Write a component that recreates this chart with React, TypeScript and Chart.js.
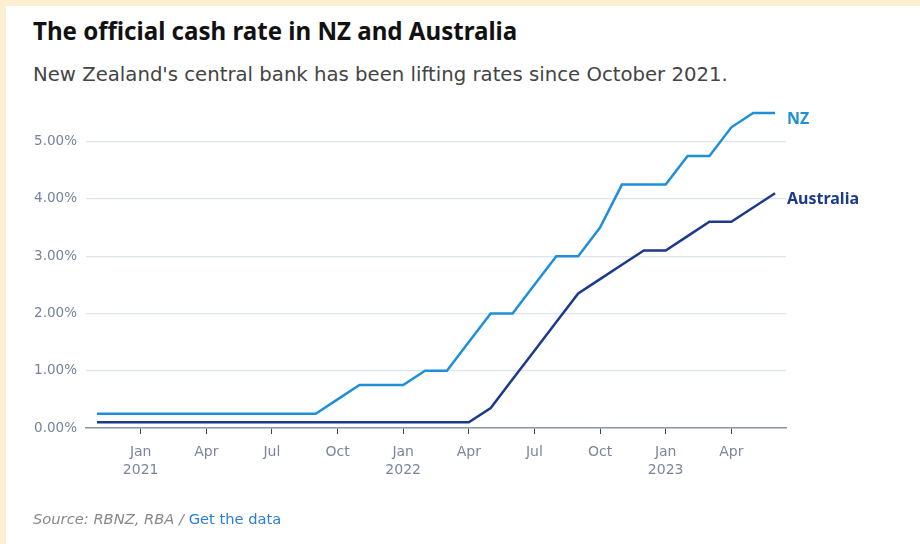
import React, { useEffect, useRef } from "react";
import { Chart, registerables } from "chart.js";

Chart.register(...registerables);

const months = [
  "2020-11", "2020-12",
  "2021-01", "2021-02", "2021-03", "2021-04", "2021-05", "2021-06",
  "2021-07", "2021-08", "2021-09", "2021-10", "2021-11", "2021-12",
  "2022-01", "2022-02", "2022-03", "2022-04", "2022-05", "2022-06",
  "2022-07", "2022-08", "2022-09", "2022-10", "2022-11", "2022-12",
  "2023-01", "2023-02", "2023-03", "2023-04", "2023-05", "2023-06",
];

const nzRates = [
  0.25, 0.25,
  0.25, 0.25, 0.25, 0.25, 0.25, 0.25,
  0.25, 0.25, 0.25, 0.5, 0.75, 0.75,
  0.75, 1.0, 1.0, 1.5, 2.0, 2.0,
  2.5, 3.0, 3.0, 3.5, 4.25, 4.25,
  4.25, 4.75, 4.75, 5.25, 5.5, 5.5,
];

const auRates = [
  0.1, 0.1,
  0.1, 0.1, 0.1, 0.1, 0.1, 0.1,
  0.1, 0.1, 0.1, 0.1, 0.1, 0.1,
  0.1, 0.1, 0.1, 0.1, 0.35, 0.85,
  1.35, 1.85, 2.35, 2.6, 2.85, 3.1,
  3.1, 3.35, 3.6, 3.6, 3.85, 4.1,
];

const seriesNames = ["NZ", "Australia"];
const seriesColors = ["#1f8fd8", "#1c3a8c"];
const yTicks = [0, 1, 2, 3, 4, 5];
const monthNames = ["Jan", "Feb", "Mar", "Apr", "May", "Jun", "Jul", "Aug", "Sep", "Oct", "Nov", "Dec"];

const FONT = "'Noto Sans', 'Open Sans', sans-serif";
const WIDE = "'DejaVu Sans', 'Noto Sans', sans-serif";

const endLabels = {
  id: "endLabels",
  afterDatasetsDraw(chart: any) {
    const { ctx, chartArea } = chart;
    ctx.save();
    ctx.font = `bold 16px ${FONT}`;
    ctx.textBaseline = "middle";
    ctx.textAlign = "left";
    chart.data.datasets.forEach((ds: any, i: number) => {
      const meta = chart.getDatasetMeta(i);
      const last = meta.data[meta.data.length - 1];
      ctx.fillStyle = ds.borderColor;
      ctx.fillText(ds.label, chartArea.right + 1, last.y + 6);
    });
    ctx.restore();
  },
};

export default function App() {
  const ref = useRef<HTMLCanvasElement | null>(null);

  useEffect(() => {
    document.body.style.margin = "0";
    const chart = new Chart(ref.current as HTMLCanvasElement, {
      type: "line",
      data: {
        labels: months,
        datasets: [
          {
            label: seriesNames[0],
            data: nzRates,
            borderColor: seriesColors[0],
            borderWidth: 2.5,
            pointRadius: 0,
            tension: 0,
            clip: false,
          },
          {
            label: seriesNames[1],
            data: auRates,
            borderColor: seriesColors[1],
            borderWidth: 2.5,
            pointRadius: 0,
            tension: 0,
            clip: false,
          },
        ],
      },
      options: {
        animation: false,
        responsive: false,
        maintainAspectRatio: false,
        layout: { padding: { left: 20, right: 134, top: 113, bottom: 64 } },
        plugins: {
          legend: { display: false },
          tooltip: { enabled: false },
        },
        scales: {
          x: {
            type: "category",
            offset: true,
            afterFit(scale: any) {
              scale.height = 52;
            },
            grid: {
              drawOnChartArea: false,
              drawTicks: true,
              tickLength: 6,
              offset: false,
              tickColor: (c: any) => {
                const idx = c.index;
                const m = parseInt(months[idx]?.slice(5) ?? "0", 10);
                return (m - 1) % 3 === 0 ? "#444" : "rgba(0,0,0,0)";
              },
            },
            border: { display: true, color: "#8b95a5", width: 1.5 },
            ticks: {
              autoSkip: false,
              maxRotation: 0,
              padding: 9,
              color: "#7b8699",
              font: { family: WIDE, size: 14, lineHeight: 1.3 },
              callback: (_v: any, idx: number) => {
                const [y, mm] = months[idx].split("-");
                const m = parseInt(mm, 10);
                if ((m - 1) % 3 !== 0) return "";
                if (m === 1) return [monthNames[0], y];
                return monthNames[m - 1];
              },
            },
          },
          y: {
            min: 0,
            max: 5.5,
            afterFit(scale: any) {
              scale.width = 66;
            },
            afterBuildTicks(scale: any) {
              scale.ticks = yTicks.map((v) => ({ value: v }));
            },
            grid: {
              drawTicks: false,
              color: "#dfe4ec",
              lineWidth: 1.2,
            },
            border: { display: false },
            ticks: {
              padding: 9,
              color: "#76839a",
              font: { family: WIDE, size: 13.5 },
              callback: (v: any) => `${Number(v).toFixed(2)}%`,
            },
          },
        },
      },
      plugins: [endLabels],
    });
    return () => chart.destroy();
  }, []);

  return (
    <div
      style={{
        position: "absolute",
        left: 0,
        top: 0,
        width: 920,
        height: 544,
        background: "#fdf0d2",
        overflow: "hidden",
      }}
    >
      <div
        style={{
          position: "absolute",
          left: 6,
          top: 6,
          width: 914,
          height: 538,
          background: "#ffffff",
        }}
      />
      <div
        style={{
          position: "absolute",
          left: 33,
          top: 14,
          fontFamily: FONT,
          fontWeight: 700,
          fontSize: 24.1,
          lineHeight: "34px",
          color: "#111",
          whiteSpace: "nowrap",
        }}
      >
        The official cash rate in NZ and Australia
      </div>
      <div
        style={{
          position: "absolute",
          left: 33,
          top: 61,
          fontFamily: WIDE,
          fontSize: 19.7,
          lineHeight: "28px",
          color: "#444",
          whiteSpace: "nowrap",
        }}
      >
        New Zealand's central bank has been lifting rates since October 2021.
      </div>
      <canvas
        ref={ref}
        width={920}
        height={544}
        style={{ position: "absolute", left: 0, top: 0, width: 920, height: 544 }}
      />
      <div
        style={{
          position: "absolute",
          left: 33,
          top: 509,
          fontFamily: WIDE,
          fontSize: 14.7,
          lineHeight: "20px",
          color: "#888",
          whiteSpace: "nowrap",
        }}
      >
        <span style={{ fontStyle: "italic" }}>Source: RBNZ, RBA / </span>
        <span style={{ color: "#2a7fd4" }}>Get the data</span>
      </div>
    </div>
  );
}
